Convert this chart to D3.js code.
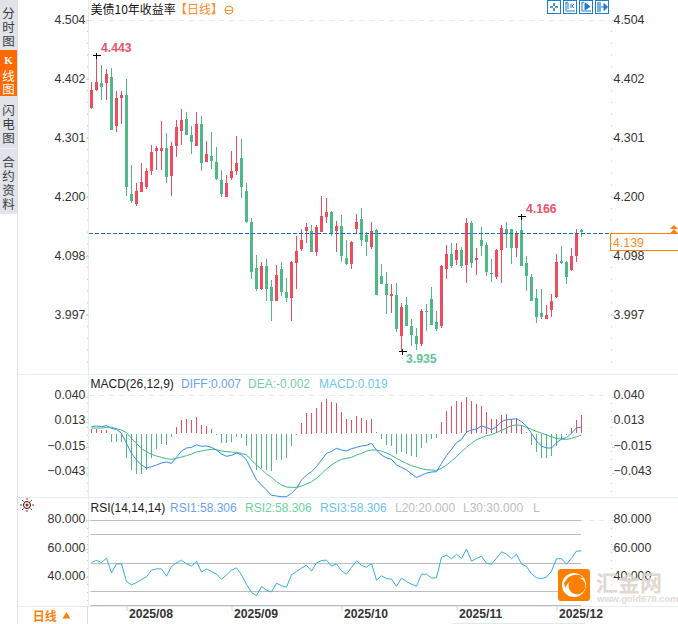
<!DOCTYPE html>
<html>
<head>
<meta charset="utf-8">
<script src="https://cdn.jsdelivr.net/npm/d3@7"></script>
<style>
  html, body { margin: 0; padding: 0; background: #fff; overflow: hidden; }
  text { font-family: "Liberation Sans", Arial, sans-serif; }
  .cjk { font-family: "Noto Sans CJK SC", "Liberation Sans", sans-serif; }
</style>
</head>
<body>
<svg id="canvas" width="678" height="624"></svg>
<script>
// ************************************************************************************** //
// Data

var dates = [
  '07/23','07/24','07/25','07/28','07/29','07/30','07/31',
  '08/01','08/04','08/05','08/06','08/07','08/08','08/11','08/12','08/13','08/14','08/15','08/18','08/19','08/20','08/21','08/22','08/25','08/26','08/27','08/28','08/29',
  '09/01','09/02','09/03','09/04','09/05','09/08','09/09','09/10','09/11','09/12','09/15','09/16','09/17','09/18','09/19','09/22','09/23','09/24','09/25','09/26','09/29','09/30',
  '10/01','10/02','10/03','10/06','10/07','10/08','10/09','10/10','10/13','10/14','10/15','10/16','10/17','10/20','10/21','10/22','10/23','10/24','10/27','10/28','10/29','10/30','10/31',
  '11/03','11/04','11/05','11/06','11/07','11/10','11/11','11/12','11/13','11/14','11/17','11/18','11/19','11/20','11/21','11/24','11/25','11/26','11/27','11/28',
  '12/01','12/02','12/03','12/04','12/05','12/08'
];
var monthTicks = ['08/01','09/01','10/01','11/03','12/01'];
var monthLabels = ['2025/08','2025/09','2025/10','2025/11','2025/12'];

var open = [
  4.352,4.384,4.396,4.396,4.406,4.322,4.370,4.375,4.205,4.187,4.208,4.217,4.244,4.279,4.279,4.284,4.236,4.287,4.313,4.334,
  4.306,4.287,4.325,4.260,4.270,4.260,4.229,4.199,4.232,4.244,4.267,4.210,4.156,4.077,4.041,4.081,4.044,4.020,4.075,4.036,
  4.026,4.086,4.110,4.141,4.141,4.105,4.139,4.165,4.174,4.141,4.149,4.094,4.084,4.144,4.162,4.134,4.113,4.143,4.063,4.050,
  4.029,4.031,3.960,4.013,3.977,3.960,3.946,4.003,4.024,3.984,3.977,4.075,4.101,4.091,4.108,4.082,4.155,4.091,4.125,4.117,
  4.069,4.062,4.108,4.144,4.144,4.112,4.143,4.086,4.062,4.026,4.000,3.989,4.005,4.027,4.089,4.088,4.074,4.098,4.143
];
var high = [
  4.398,4.443,4.427,4.420,4.421,4.382,4.382,4.402,4.254,4.223,4.258,4.249,4.289,4.287,4.330,4.310,4.294,4.332,4.351,4.346,
  4.322,4.346,4.339,4.296,4.311,4.285,4.246,4.237,4.279,4.304,4.299,4.223,4.163,4.100,4.088,4.093,4.057,4.082,4.088,4.060,
  4.089,4.132,4.144,4.155,4.151,4.151,4.201,4.198,4.175,4.158,4.168,4.125,4.124,4.170,4.180,4.139,4.156,4.144,4.084,4.070,
  4.050,4.051,4.017,4.027,3.989,3.974,4.007,4.015,4.044,4.003,4.082,4.117,4.120,4.120,4.113,4.163,4.158,4.112,4.148,4.122,
  4.093,4.110,4.151,4.156,4.144,4.141,4.166,4.098,4.067,4.041,4.041,4.014,4.032,4.101,4.115,4.089,4.112,4.144,4.144
];
var low = [
  4.350,4.382,4.366,4.366,4.315,4.311,4.325,4.201,4.189,4.184,4.208,4.213,4.237,4.246,4.246,4.223,4.201,4.268,4.289,4.306,
  4.273,4.287,4.244,4.260,4.248,4.229,4.199,4.199,4.229,4.237,4.198,4.155,4.058,4.038,4.039,4.020,3.986,4.020,4.029,4.019,
  3.986,4.041,4.106,4.120,4.105,4.098,4.139,4.155,4.132,4.105,4.088,4.082,4.075,4.136,4.115,4.098,4.110,4.031,4.050,3.998,
  4.000,3.967,3.935,3.977,3.943,3.936,3.943,3.969,3.979,3.969,3.974,4.058,4.077,4.082,4.077,4.051,4.077,4.065,4.098,4.063,
  4.053,4.058,4.051,4.112,4.084,4.096,4.081,4.038,4.020,3.983,3.989,3.989,3.993,4.026,4.084,4.050,4.072,4.088,4.131
];
var close = [
  4.384,4.397,4.389,4.411,4.315,4.370,4.375,4.217,4.193,4.210,4.225,4.244,4.277,4.284,4.284,4.234,4.287,4.320,4.332,4.306,
  4.294,4.325,4.258,4.273,4.261,4.230,4.205,4.223,4.244,4.258,4.217,4.156,4.070,4.041,4.081,4.041,4.020,4.065,4.036,4.026,
  4.088,4.106,4.125,4.148,4.105,4.148,4.167,4.174,4.137,4.149,4.098,4.084,4.122,4.156,4.125,4.122,4.141,4.031,4.050,4.031,
  4.032,3.972,4.010,3.977,3.962,3.946,4.003,4.001,3.979,3.972,4.081,4.101,4.081,4.108,4.081,4.155,4.086,4.094,4.115,4.070,
  4.067,4.108,4.146,4.136,4.112,4.137,4.081,4.063,4.020,3.993,3.993,3.996,4.020,4.088,4.086,4.062,4.098,4.137,4.139
];

var macdDiff = [
  0.0075,0.0082,0.0075,0.0086,0.0056,0.0045,0.0002,-0.0107,-0.0217,-0.0289,-0.0344,-0.0377,-0.0362,-0.0344,-0.0322,-0.0311,-0.0326,-0.0260,-0.0191,-0.0158,
  -0.0151,-0.0122,-0.0140,-0.0136,-0.0151,-0.0180,-0.0224,-0.0249,-0.0238,-0.0213,-0.0231,-0.0289,-0.0398,-0.0508,-0.0562,-0.0617,-0.0675,-0.0682,-0.0690,-0.0690,
  -0.0653,-0.0599,-0.0508,-0.0453,-0.0417,-0.0362,-0.0289,-0.0217,-0.0195,-0.0162,-0.0180,-0.0191,-0.0166,-0.0151,-0.0136,-0.0129,-0.0107,-0.0180,-0.0235,-0.0267,
  -0.0282,-0.0344,-0.0369,-0.0398,-0.0442,-0.0479,-0.0457,-0.0431,-0.0420,-0.0417,-0.0326,-0.0242,-0.0173,-0.0100,-0.0064,0.0016,0.0038,0.0049,0.0082,0.0067,
  0.0042,0.0075,0.0129,0.0151,0.0155,0.0162,0.0129,0.0082,0.0002,-0.0082,-0.0136,-0.0158,-0.0158,-0.0100,-0.0060,-0.0045,0.0002,0.0064,0.0070
];
var macdDea = [
  0.0060,0.0060,0.0060,0.0067,0.0067,0.0053,0.0038,0.0009,-0.0053,-0.0107,-0.0166,-0.0198,-0.0227,-0.0246,-0.0260,-0.0275,-0.0282,-0.0271,-0.0257,-0.0242,
  -0.0224,-0.0202,-0.0191,-0.0180,-0.0173,-0.0176,-0.0191,-0.0198,-0.0202,-0.0206,-0.0217,-0.0235,-0.0289,-0.0344,-0.0391,-0.0442,-0.0479,-0.0526,-0.0562,-0.0584,
  -0.0588,-0.0588,-0.0573,-0.0551,-0.0526,-0.0489,-0.0442,-0.0388,-0.0344,-0.0307,-0.0282,-0.0271,-0.0260,-0.0235,-0.0217,-0.0191,-0.0180,-0.0180,-0.0191,-0.0213,
  -0.0238,-0.0271,-0.0300,-0.0326,-0.0351,-0.0366,-0.0384,-0.0395,-0.0398,-0.0402,-0.0380,-0.0344,-0.0300,-0.0253,-0.0198,-0.0151,-0.0107,-0.0067,-0.0045,-0.0024,
  -0.0013,0.0009,0.0035,0.0060,0.0086,0.0093,0.0089,0.0067,0.0045,0.0024,0.0005,-0.0016,-0.0035,-0.0053,-0.0060,-0.0064,-0.0053,-0.0035,-0.0016
];
var macdHist = [
  0.0049,0.0049,0.0038,0.0038,-0.0082,-0.0082,-0.0082,-0.0267,-0.0391,-0.0442,-0.0435,-0.0398,-0.0257,-0.0169,-0.0107,-0.0115,-0.0038,0.0071,0.0147,0.0158,
  0.0147,0.0180,0.0093,0.0082,0.0049,-0.0016,-0.0093,-0.0093,-0.0082,-0.0038,-0.0049,-0.0126,-0.0267,-0.0388,-0.0366,-0.0398,-0.0409,-0.0289,-0.0289,-0.0260,
  -0.0126,-0.0009,0.0115,0.0224,0.0224,0.0278,0.0344,0.0377,0.0344,0.0329,0.0235,0.0155,0.0147,0.0191,0.0169,0.0147,0.0158,0.0016,-0.0060,-0.0115,
  -0.0136,-0.0213,-0.0202,-0.0217,-0.0235,-0.0246,-0.0158,-0.0093,-0.0060,-0.0049,0.0126,0.0246,0.0300,0.0355,0.0344,0.0398,0.0355,0.0322,0.0300,0.0235,
  0.0158,0.0158,0.0202,0.0213,0.0158,0.0169,0.0093,0.0016,-0.0115,-0.0202,-0.0260,-0.0267,-0.0235,-0.0126,-0.0053,-0.0016,0.0060,0.0147,0.0202
];

var rsi = [
  50.2,51.6,50.2,53.2,42.9,49.2,49.2,36.8,34.4,36.1,38.2,40.1,44.8,45.7,45.7,40.6,47.4,49.9,51.8,49.2,
  47.6,51.1,43.4,45.7,43.8,42.0,38.4,41.5,44.8,46.4,41.5,34.9,29.1,26.9,33.3,30.7,29.5,35.6,33.8,32.8,
  41.5,43.8,46.2,48.3,44.1,49.9,51.6,51.8,47.6,49.2,44.3,42.0,46.7,51.3,48.1,46.9,49.5,37.7,40.8,38.9,
  38.4,33.5,39.2,36.8,34.9,33.5,42.0,42.0,39.2,39.4,53.9,55.3,52.8,56.0,53.0,59.6,51.1,53.0,54.6,49.7,
  49.0,53.2,57.7,56.0,52.8,56.0,49.2,47.3,42.2,39.4,38.9,39.8,44.1,52.8,52.8,49.0,53.2,58.2,58.306
];

var priceTicks = [4.504, 4.402, 4.301, 4.200, 4.098, 3.997];
var macdTicks = [0.040, 0.013, -0.015, -0.043];
var rsiTicks = [80, 60, 40];
var rsiLevels = [80, 70, 50, 30, 20];

// highest, lowest and last local high get a text note on the chart
var notes = [
  { i: 1, kind: 'high' },
  { i: 62, kind: 'low' },
  { i: 86, kind: 'high' }
];

// ************************************************************************************** //
// Scales

var red = '#ee4b5e', green = '#50b786', gridCol = '#e4edf1', axisCol = '#c6d6e2';
var svg = d3.select('#canvas');

var x = d3.scalePoint().domain(dates).range([91.5, 581.5]);
var yPrice = d3.scaleLinear().domain([3.997, 4.504]).range([314.6, 20]);
var yMacd = d3.scaleLinear().domain([-0.043, 0.040]).range([472.9, 396.9]);
var yRsi = d3.scaleLinear().domain([20, 80]).range([605.4, 520.1]);

function px(i){ return Math.floor(x(dates[i])); }

// ************************************************************************************** //
// Frame

svg.append('rect').attr('width', 678).attr('height', 624).attr('fill', '#fff');

svg.append('line').attr('x1', 17.5).attr('x2', 17.5).attr('y1', 0).attr('y2', 624).attr('stroke', '#dde1e6');
svg.append('line').attr('x1', 88.5).attr('x2', 88.5).attr('y1', 0).attr('y2', 606).attr('stroke', gridCol);
[374.5, 497.5, 606.5].forEach(function(d){
  svg.append('line').attr('x1', 18).attr('x2', 678).attr('y1', d).attr('y2', d).attr('stroke', gridCol);
});
// top dashed guides
[20.5, 395.5, 520.5].forEach(function(d){
  svg.append('line').attr('x1', 89).attr('x2', 610).attr('y1', d).attr('y2', d)
    .attr('stroke', '#e6ecec').attr('stroke-dasharray', '5,5');
});

// side tabs
svg.append('rect').attr('x', 0).attr('y', 0).attr('width', 17).attr('height', 214).attr('fill', '#e1e2ea');
svg.append('rect').attr('x', 0).attr('y', 50).attr('width', 17).attr('height', 46).attr('fill', '#ff6a00');
svg.append('rect').attr('x', 0).attr('y', 148).attr('width', 17).attr('height', 1).attr('fill', '#f4f5f8');
var tabs = [
  { t: '分', y: 13 }, { t: '时', y: 27 }, { t: '图', y: 41 },
  { t: '线', y: 76, c: '#fff' }, { t: '图', y: 89, c: '#fff' },
  { t: '闪', y: 110 }, { t: '电', y: 124 }, { t: '图', y: 138 },
  { t: '合', y: 162 }, { t: '约', y: 176 }, { t: '资', y: 190 }, { t: '料', y: 204 }
];
svg.selectAll('.tab').data(tabs).enter().append('text').attr('class', 'tab cjk')
  .attr('x', 8.5).attr('y', function(d){ return d.y; }).attr('dy', '0.36em')
  .attr('text-anchor', 'middle').attr('font-size', 12.5)
  .attr('fill', function(d){ return d.c || '#3c3c3c'; })
  .text(function(d){ return d.t; });
svg.append('text').attr('x', 8.5).attr('y', 64).attr('text-anchor', 'middle')
  .attr('font-size', 11).attr('font-weight', 'bold').attr('fill', '#fff')
  .style('font-family', '"Liberation Serif", serif').text('K');

// ************************************************************************************** //
// Axes

function dress(g, dy){
  g.select('.domain').remove();
  g.selectAll('line').attr('stroke', axisCol).attr('shape-rendering', 'crispEdges');
  g.selectAll('text').attr('font-size', 12.4).attr('fill', '#333').attr('y', dy);
}
function dots(sel, list){
  sel.selectAll('.dot').data(list).enter().append('rect').attr('class', 'dot')
    .attr('width', 1).attr('height', 1).attr('fill', '#c4cbd2')
    .attr('y', function(d){ return d; });
}

function yAxes(scale, ticks, fmt, dy){
  svg.append('g').attr('transform', 'translate(88.5,0)')
    .call(d3.axisLeft(scale).tickValues(ticks).tickSize(3).tickPadding(0).tickFormat(fmt))
    .call(dress, dy);
  svg.append('g').attr('transform', 'translate(611.5,0)')
    .call(d3.axisRight(scale).tickValues(ticks).tickSize(3).tickPadding(-1).tickFormat(fmt))
    .call(dress, dy);
}

yAxes(yPrice, priceTicks, d3.format('.3f'), -0.5);
yAxes(yMacd, macdTicks, d3.format('.3f'), -2);
yAxes(yRsi, rsiTicks, d3.format('.3f'), -1.5);

var dotY = d3.range(31, 372, 11.8).concat(d3.range(403, 494, 8)).concat(d3.range(528, 604, 8));
dots(svg.append('g').attr('transform', 'translate(87,0)'), dotY);
dots(svg.append('g').attr('transform', 'translate(611,0)'), dotY);

var xAxis = svg.append('g').attr('transform', 'translate(0,606)')
  .call(d3.axisBottom(x).tickValues(monthTicks).tickSize(5).tickFormat(function(d){ return monthLabels[monthTicks.indexOf(d)]; }));
xAxis.select('.domain').remove();
xAxis.selectAll('line').attr('stroke', '#cfd6dc');
xAxis.selectAll('text').attr('text-anchor', 'start').attr('x', 2).attr('y', 3.5)
  .attr('font-size', 12.2).attr('font-weight', 'bold').attr('fill', '#333');

// ************************************************************************************** //
// Candles

var candles = svg.append('g').attr('shape-rendering', 'crispEdges');
dates.forEach(function(d, i){
  var up = close[i] >= open[i];
  var col = up ? red : green;
  var top = Math.round(yPrice(Math.max(open[i], close[i])));
  var bot = Math.round(yPrice(Math.min(open[i], close[i])));
  var hi = Math.round(yPrice(high[i])), lo = Math.round(yPrice(low[i]));
  candles.append('rect').attr('x', px(i)).attr('y', hi).attr('width', 1).attr('height', Math.max(1, lo - hi)).attr('fill', col);
  candles.append('rect').attr('x', px(i) - 1).attr('y', top).attr('width', 3).attr('height', Math.max(1, bot - top)).attr('fill', col);
});

// last price line and its box
var lastY = Math.round(yPrice(close[close.length - 1])) + 1.5;
svg.append('line').attr('x1', 89).attr('x2', 612).attr('y1', lastY).attr('y2', lastY)
  .attr('stroke', '#0f6fe6').attr('stroke-dasharray', '4,2').attr('shape-rendering', 'crispEdges');
svg.append('rect').attr('x', 610.5).attr('y', lastY).attr('width', 68).attr('height', 17)
  .attr('fill', 'none').attr('stroke', '#ff7f0e').attr('stroke-width', 1).attr('shape-rendering', 'crispEdges');
svg.append('text').attr('x', 613).attr('y', lastY + 13).attr('font-size', 12.4).attr('fill', '#ff8a1e')
  .text(d3.format('.3f')(close[close.length - 1]));
svg.append('path').attr('d', 'M674,225l4,4h-8zM674,229l4,4.5h-8z').attr('fill', '#ff7f0e');

// high / low notes
var noteG = svg.selectAll('.note').data(notes).enter().append('g').attr('class', 'note');
noteG.append('path').attr('stroke', '#000').attr('fill', 'none').attr('shape-rendering', 'crispEdges')
  .attr('d', function(d){
    var cx = px(d.i) + 0.5 + (d.kind == 'low' ? 1 : 0);
    var cy = Math.round(yPrice(d.kind == 'high' ? high[d.i] : low[d.i])) + 0.5;
    return 'M' + (cx - 4) + ',' + cy + 'h8M' + cx + ',' + (cy - 3) + 'v6';
  });
noteG.append('text').attr('font-size', 12.2).attr('font-weight', 'bold').attr('dy', '0.36em')
  .attr('fill', function(d){ return d.kind == 'high' ? '#f0516a' : '#62c39d'; })
  .attr('x', function(d){ return x(dates[d.i]) + 4.5; })
  .attr('y', function(d){
    return d.kind == 'high' ? yPrice(high[d.i]) - 7.5 : yPrice(low[d.i]) + 8;
  })
  .text(function(d){ return d3.format('.3f')(d.kind == 'high' ? high[d.i] : low[d.i]); });

// ************************************************************************************** //
// MACD

var histG = svg.append('g').attr('shape-rendering', 'crispEdges');
histG.selectAll('rect').data(macdHist).enter().append('rect')
  .attr('x', function(d, i){ return px(i); })
  .attr('width', 1)
  .attr('y', function(d){ return Math.round(Math.min(yMacd(d), yMacd(0))); })
  .attr('height', function(d){ return Math.max(1, Math.round(Math.abs(yMacd(d) - yMacd(0)))); })
  .attr('fill', function(d){ return d >= 0 ? red : green; });

var lineGen = function(scale){
  return d3.line().x(function(d, i){ return x(dates[i]); }).y(function(d){ return scale(d); });
};
svg.append('path').attr('d', lineGen(yMacd)(macdDea)).attr('fill', 'none').attr('stroke', '#3ebb80');
svg.append('path').attr('d', lineGen(yMacd)(macdDiff)).attr('fill', 'none').attr('stroke', '#2b8cf5');

// ************************************************************************************** //
// RSI

svg.selectAll('.level').data(rsiLevels).enter().append('line').attr('class', 'level')
  .attr('x1', 90.5).attr('x2', 581)
  .attr('y1', function(d){ return Math.round(yRsi(d)) + 0.5; })
  .attr('y2', function(d){ return Math.round(yRsi(d)) + 0.5; })
  .attr('stroke', '#bcbcbc');
svg.append('path').attr('d', lineGen(yRsi)(rsi)).attr('fill', 'none').attr('stroke', '#35aee4');

// ************************************************************************************** //
// Titles and legends

function legend(y, items){
  items.forEach(function(d){
    svg.append('text').attr('x', d.x).attr('y', y).attr('font-size', 12).attr('fill', d.c).text(d.t);
  });
}
legend(388, [
  { x: 90.5, t: 'MACD(26,12,9)', c: '#222' },
  { x: 181, t: 'DIFF:0.007', c: '#6a9ff5' },
  { x: 248, t: 'DEA:-0.002', c: '#72cf9f' },
  { x: 319, t: 'MACD:0.019', c: '#6cc6f3' }
]);
legend(512, [
  { x: 90.5, t: 'RSI(14,14,14)', c: '#222' },
  { x: 170, t: 'RSI1:58.306', c: '#6a9ff5' },
  { x: 245, t: 'RSI2:58.306', c: '#6ad39e' },
  { x: 320, t: 'RSI3:58.306', c: '#6cc3f0' },
  { x: 395, t: 'L20:20.000', c: '#bdbdbd' },
  { x: 463, t: 'L30:30.000', c: '#bdbdbd' },
  { x: 533, t: 'L', c: '#bdbdbd' }
]);

svg.append('text').attr('class', 'cjk').attr('x', 90.5).attr('y', 13.5).attr('font-size', 12).attr('fill', '#111').text('美债10年收益率');
svg.append('text').attr('class', 'cjk').attr('x', 175).attr('y', 13.5).attr('font-size', 12).attr('fill', '#ff8a1e').text('【日线】');
svg.append('circle').attr('cx', 229).attr('cy', 10).attr('r', 4).attr('fill', 'none').attr('stroke', '#ff8a1e');
svg.append('line').attr('x1', 225).attr('x2', 233).attr('y1', 10.5).attr('y2', 10.5).attr('stroke', '#ff8a1e');

svg.append('text').attr('class', 'cjk').attr('x', 32.7).attr('y', 620.5).attr('font-size', 12).attr('font-weight', 'bold').attr('fill', '#ff7f0e').text('日线');
svg.append('path').attr('d', 'M66.5,612l4,6.5h-8z').attr('fill', '#ff7f0e');
svg.append('line').attr('x1', 87.5).attr('x2', 87.5).attr('y1', 606).attr('y2', 624).attr('stroke', '#dde1e6');

// scrollbar hint under the chart
svg.append('rect').attr('x', 452).attr('y', 623).attr('width', 133).attr('height', 1).attr('fill', '#dceaf3');

// ************************************************************************************** //
// Tool icons

var icons = svg.append('g').attr('fill', 'none').attr('stroke', '#1a7fd0');
[547.5, 563.5, 579.5, 595.5].forEach(function(d){
  icons.append('rect').attr('x', d).attr('y', 0.5).attr('width', 13).attr('height', 13);
});
icons.append('path').attr('d', 'M554,3v3M554,8v3M550,7h3M555,7h3').attr('stroke-width', 1.6);
icons.append('path').attr('d', 'M566,2v9h9M568,3v6M566,3l2,-1M571,4v4M574,4l-2,2l2,2');
icons.append('path').attr('d', 'M582,2v9h9M582,3l2,-1');
icons.append('path').attr('d', 'M585,3l5,3.5l-5,3.5z').attr('fill', '#1a7fd0');
icons.append('path').attr('d', 'M598,2v10M600,2v10M601,7h6').attr('stroke-width', 1.2);
icons.append('path').attr('d', 'M604,3.5l3.5,3.5l-3.5,3.5z').attr('fill', '#1a7fd0');

// ************************************************************************************** //
// Sun icon

var sun = svg.append('g').attr('transform', 'translate(27,505)');
sun.append('circle').attr('r', 3.5).attr('fill', '#fff').attr('stroke', '#111');
sun.append('circle').attr('r', 1.6).attr('fill', '#e01010');
d3.range(8).forEach(function(k){
  var a = k * Math.PI / 4;
  sun.append('line').attr('stroke', '#f01010')
    .attr('x1', 5 * Math.cos(a)).attr('y1', 5 * Math.sin(a))
    .attr('x2', 7 * Math.cos(a)).attr('y2', 7 * Math.sin(a));
});

// ************************************************************************************** //
// Watermark

var mark = svg.append('g');
mark.append('rect').attr('x', 558).attr('y', 569).attr('width', 32).attr('height', 32).attr('rx', 3).attr('fill', '#ff8000');
mark.append('circle').attr('cx', 574).attr('cy', 585).attr('r', 12).attr('fill', '#fff');
mark.append('circle').attr('cx', 577).attr('cy', 586).attr('r', 8.5).attr('fill', '#ff8000');
mark.append('path').attr('d', 'M565,588q6,-12 18,-10l-3,-3q-11,-2 -16,8z').attr('fill', '#ff8000');
mark.append('text').attr('class', 'cjk').attr('x', 596).attr('y', 591).attr('font-size', 22).attr('font-weight', 'bold')
  .attr('fill', '#ddd5cb').attr('opacity', 0.9).text('汇金网');
mark.append('text').attr('x', 597).attr('y', 602).attr('font-size', 9.4).attr('font-weight', 'bold')
  .attr('fill', '#e2dcd4').text('www.gold678.com');
</script>
</body>
</html>
